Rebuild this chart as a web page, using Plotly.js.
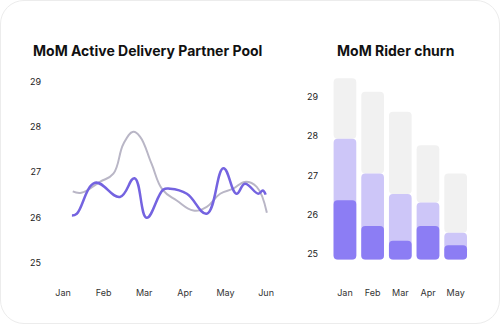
<!DOCTYPE html>
<html><head><meta charset="utf-8">
<script src="https://cdn.plot.ly/plotly-3.0.1.min.js"></script>
<style>
html,body{margin:0;padding:0;background:#fff;}
#card{position:absolute;left:0;top:0;width:498px;height:322px;border:1px solid #ececec;border-radius:24px;background:#fff;overflow:hidden;}
#chart{position:absolute;left:-1px;top:-1px;width:500px;height:324px;}
</style></head>
<body><div id="card"><div id="chart"></div></div>
<script>
// Left chart: MoM Active Delivery Partner Pool (x = month index, 0 = Jan)
const monthLabels = ['Jan','Feb','Mar','Apr','May','Jun'];
const grayX = [0.24,0.45,0.91,1.24,1.49,1.73,1.90,2.18,2.45,2.80,3.21,3.54,3.87,4.19,4.48,4.77,5.02];
const grayY = [26.58,26.55,26.79,26.97,27.63,27.89,27.78,27.19,26.62,26.38,26.16,26.24,26.53,26.64,26.79,26.68,26.11];
const purpleX = [0.22,0.34,0.79,1.40,1.76,2.06,2.47,2.64,3.05,3.54,3.95,4.27,4.48,4.81,4.92,4.99];
const purpleY = [26.05,26.09,26.77,26.46,26.87,26.00,26.62,26.64,26.53,26.09,27.09,26.53,26.75,26.53,26.60,26.51];

// Right chart: MoM Rider churn (segment tops)
const churnMonths = ['Jan','Feb','Mar','Apr','May'];
const churnTotal = [29.47,29.13,28.62,27.77,27.05];
const churnMid = [27.93,27.05,26.53,26.31,25.54];
const churnLow = [26.37,25.71,25.34,25.71,25.22];
const churnBase = 24.86;

const tickFont = {family:'Inter, Roboto, sans-serif', size:9, color:'#333'};

const traces = [
  {x:grayX, y:grayY, type:'scatter', mode:'lines', line:{shape:'spline', smoothing:1.2, color:'#b9b6c6', width:2}, xaxis:'x', yaxis:'y', hoverinfo:'skip'},
  {x:purpleX, y:purpleY, type:'scatter', mode:'lines', line:{shape:'spline', smoothing:1.2, color:'#7463e0', width:2.5}, xaxis:'x', yaxis:'y', hoverinfo:'skip'},
  // gray top segment, rounded top
  {x:churnMonths, y:churnTotal.map((t,i)=>t-churnMid[i]), base:churnMid, type:'bar', marker:{color:'#f1f1f1', cornerradius:4}, xaxis:'x2', yaxis:'y2', hoverinfo:'skip'},
  // light purple, drawn downward so bottom is rounded
  {x:churnMonths, y:churnMid.map(v=>churnBase-v), base:churnMid, type:'bar', marker:{color:'#cdc6f8', cornerradius:4}, xaxis:'x2', yaxis:'y2', hoverinfo:'skip'},
  // dark purple
  {x:churnMonths, y:churnLow.map(v=>churnBase-v), base:churnLow, type:'bar', marker:{color:'#8c7df4', cornerradius:4}, xaxis:'x2', yaxis:'y2', hoverinfo:'skip'}
];

const layout = {
  width:500, height:324,
  margin:{l:0,r:0,t:0,b:0},
  paper_bgcolor:'rgba(0,0,0,0)', plot_bgcolor:'rgba(0,0,0,0)',
  showlegend:false,
  barmode:'overlay', bargap:0.18,
  xaxis:{domain:[50/500,275/500], range:[-0.32,5.22], tickvals:[0,1,2,3,4,5], ticktext:monthLabels, showgrid:false, zeroline:false, showline:false, ticks:'', tickfont:tickFont, ticklabelstandoff:2, anchor:'y'},
  yaxis:{domain:[1-284/324,1-70/324], range:[24.545,29.25], tickvals:[25,26,27,28,29], showgrid:false, zeroline:false, showline:false, ticks:'', tickfont:{family:'Inter, Roboto, sans-serif', size:9, color:'#222'}, ticklabelstandoff:8, anchor:'x'},
  xaxis2:{domain:[331.1/500,469.5/500], range:[-0.5,4.5], type:'category', showgrid:false, zeroline:false, showline:false, ticks:'', tickfont:tickFont, ticklabelstandoff:2, anchor:'y2'},
  yaxis2:{domain:[1-284/324,1-70/324], range:[24.237,29.682], tickvals:[25,26,27,28,29], showgrid:false, zeroline:false, showline:false, ticks:'', tickfont:{family:'Inter, Roboto, sans-serif', size:9, color:'#222'}, ticklabelstandoff:12, anchor:'x2'},
  annotations:[
    {text:'<b>MoM Active Delivery Partner Pool</b>', x:31/500, y:1-50/324, xref:'paper', yref:'paper', xanchor:'left', yanchor:'middle', showarrow:false, font:{family:'Inter, Roboto, sans-serif', size:14, color:'#111'}},
    {text:'<b>MoM Rider churn</b>', x:335/500, y:1-50/324, xref:'paper', yref:'paper', xanchor:'left', yanchor:'middle', showarrow:false, font:{family:'Inter, Roboto, sans-serif', size:14, color:'#111'}}
  ]
};

Plotly.newPlot('chart', traces, layout, {displayModeBar:false, staticPlot:true});
</script>
</body></html>
